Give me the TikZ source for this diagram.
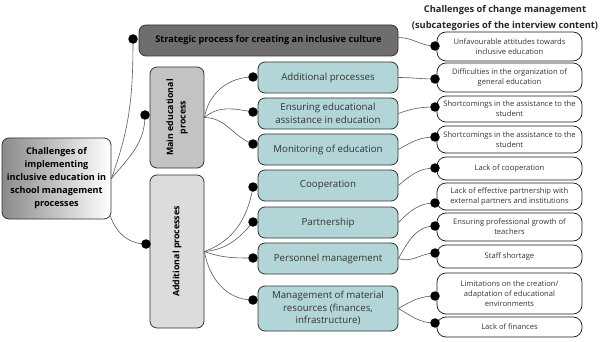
\documentclass[tikz,border=0pt]{standalone}
\usepackage{fontspec}
\setmainfont{Open Sans}
\usetikzlibrary{backgrounds}
\definecolor{tealc}{HTML}{B2D6D8}
\definecolor{darkg}{HTML}{6E6E6E}
\definecolor{midg}{HTML}{C3C3C3}
\definecolor{lightg}{HTML}{DCDCDC}
\definecolor{rootg}{HTML}{8A8A8A}
\begin{document}
\begin{tikzpicture}[x=1pt,y=-1pt,
  box/.style={draw=black!80, line width=0.8pt, rounded corners=7pt, inner sep=1pt, align=center},
  tealbox/.style={box, fill=tealc, minimum width=140pt, text=black!80, font=\fontsize{9.7}{12.5}\selectfont},
  subbox/.style={draw=black!90, line width=0.7pt, rounded corners=9pt, minimum width=145pt, align=center, inner sep=1pt, text=black!80, font=\fontsize{7.6}{9.8}\selectfont},
  dotn/.style={circle, fill=black, inner sep=0pt, minimum size=9.5pt},
  conn/.style={draw=black!65, line width=0.6pt},
  vlab/.style={rotate=90, align=center, font=\bfseries\fontsize{8.8}{12.5}\selectfont}
]
\useasboundingbox (0,0) rectangle (605,342);

% title
\node[align=center, font=\bfseries\fontsize{9.3}{15.5}\selectfont, text=black!85] (title) at (505,18) {Challenges of change management\\(subcategories of the interview content)};

% root
\node[box, left color=rootg, right color=white, minimum width=109pt, minimum height=81pt, font=\bfseries\fontsize{9.1}{13}\selectfont] (root) at (56.5,178.5)
  {Challenges of\\implementing\\inclusive education in\\school management\\processes};

% strategic
\node[box, fill=darkg, minimum width=259pt, minimum height=31pt, font=\bfseries\fontsize{9.2}{11}\selectfont] (strat) at (268.5,40.5)
  {\raisebox{-3pt}{Strategic process for creating an inclusive culture}};

% main / additional
\node[box, fill=midg, minimum width=54pt, minimum height=101pt] (main) at (177,117.5) {};
\node[vlab] (mainl) at (main.center) {Main educational\\process};
\node[box, fill=lightg, minimum width=54pt, minimum height=153pt] (addl) at (177,251.5) {};
\node[vlab] (addll) at (addl.center) {Additional processes};

% teal boxes
\node[tealbox, minimum height=31pt] (t1) at (328,77.5) {Additional processes};
\node[tealbox, minimum height=31pt] (t2) at (328,113.5) {Ensuring educational\\assistance in education};
\node[tealbox, minimum height=31pt] (t3) at (328,149.5) {Monitoring of education};
\node[tealbox, minimum height=31pt] (t4) at (328,185.5) {Cooperation};
\node[tealbox, minimum height=31pt] (t5) at (328,222.5) {Partnership};
\node[tealbox, minimum height=31pt] (t6) at (328,258.5) {Personnel management};
\node[tealbox, minimum height=45pt] (t7) at (328,308.5) {Management of material\\resources (finances,\\infrastructure)};

% sub boxes
\node[subbox, minimum height=29pt] (s1) at (509.5,46.5) {Unfavourable attitudes towards\\inclusive education};
\node[subbox, minimum height=29pt] (s2) at (509.5,77.5) {Difficulties in the organization of\\general education};
\node[subbox, minimum height=26pt] (s3) at (509.5,109) {Shortcomings in the assistance to the\\student};
\node[subbox, minimum height=27pt] (s4) at (509.5,139.5) {Shortcomings in the assistance to the\\student};
\node[subbox, minimum height=23pt] (s5) at (509.5,168.5) {Lack of cooperation};
\node[subbox, minimum height=27pt] (s6) at (509.5,196.5) {Lack of effective partnership with\\external partners and institutions};
\node[subbox, minimum height=28pt] (s7) at (509.5,227) {Ensuring professional growth of\\teachers};
\node[subbox, minimum height=23pt] (s8) at (509.5,256.5) {Staff shortage};
\node[subbox, minimum height=41pt] (s9) at (509.5,293.5) {Limitations on the creation/\\adaptation of educational\\environments};
\node[subbox, minimum height=20pt] (s10) at (509.5,327) {Lack of finances};

% dots
\node[dotn] (ds) at (133,39) {};
\node[dotn] (dm) at (145,115) {};
\node[dotn] (da) at (146,244) {};
\node[dotn] (d1) at (253,77) {};
\node[dotn] (d2) at (253,112) {};
\node[dotn] (d3) at (253,144) {};
\node[dotn] (d4) at (253,187) {};
\node[dotn] (d5) at (253,222) {};
\node[dotn] (d6) at (253,258) {};
\node[dotn] (d7) at (253,300) {};
\node[dotn] (e1) at (435,46) {};
\node[dotn] (e2) at (435,79) {};
\node[dotn] (e3) at (435,107) {};
\node[dotn] (e4) at (435,137) {};
\node[dotn] (e5) at (435,168) {};
\node[dotn] (e6) at (435,203) {};
\node[dotn] (e7) at (435,226) {};
\node[dotn] (e8) at (435,253) {};
\node[dotn] (e9) at (435,296) {};
\node[dotn] (e10) at (435,323) {};

\begin{scope}[on background layer]
% root connectors
\draw[conn] (root.east) to[out=70,in=-90] (ds.center);
\draw[conn] (root.east) to[out=50,in=-90] (dm.center);
\draw[conn] (root.south east) ++(-1,-3) to[out=-70,in=180] (da.center);
% main fan
\draw[conn] (main.east) to[out=80,in=180] (d1.center);
\draw[conn] (main.east) to[out=40,in=170] (d2.center);
\draw[conn] (main.east) to[out=0,in=160] (d3.center);
% additional fan
\draw[conn] (addl.east) to[out=20,in=-100] (d4.center);
\draw[conn] (addl.east) to[out=5,in=-130] (d5.center);
\draw[conn] (addl.east) to[out=-20,in=180] (d6.center);
\draw[conn] (addl.east) to[out=-80,in=180] (d7.center);
% right connectors
\draw[conn] ([yshift=3pt]strat.east) to[out=0,in=180] (e1.center);
\draw[conn] (t1.east) to[out=0,in=180] (e2.center);
\draw[conn] (t2.east) to[out=20,in=180] (e3.center);
\draw[conn] (t3.east) to[out=30,in=180] (e4.center);
\draw[conn] (t4.east) to[out=40,in=180] (e5.center);
\draw[conn] (t5.east) to[out=45,in=180] (e6.center);
\draw[conn] (t6.east) to[out=60,in=180] (e7.center);
\draw[conn] (t6.east) to[out=-20,in=180] (e8.center);
\draw[conn] (t7.east) to[out=30,in=180] (e9.center);
\draw[conn] (t7.east) to[out=-30,in=180] (e10.center);
\end{scope}
\end{tikzpicture}
\end{document}
